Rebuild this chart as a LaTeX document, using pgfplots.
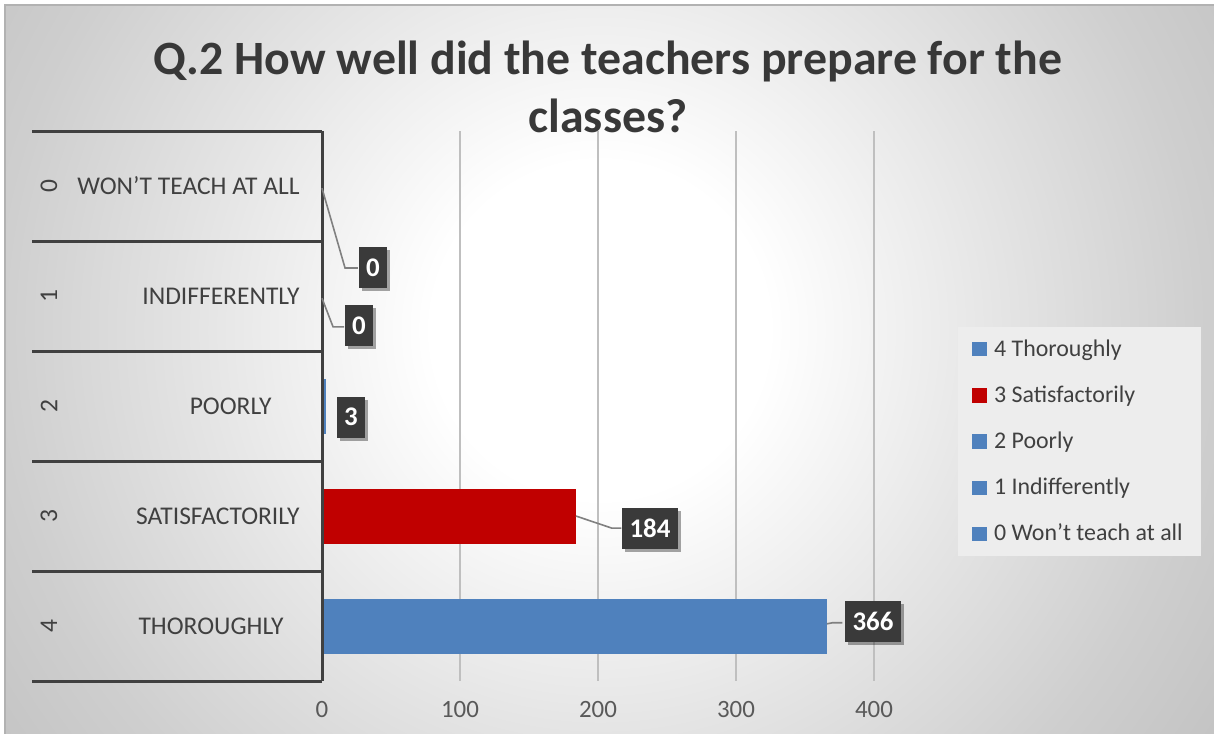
\documentclass[border=0pt]{standalone}
\usepackage{pgfplots}
\pgfplotsset{compat=1.18}
\usepackage{fontspec}
\setmainfont{Carlito}
\usetikzlibrary{shadows}
\definecolor{barblue}{HTML}{4F81BD}
\definecolor{barred}{HTML}{C00000}
\definecolor{labbox}{HTML}{3A3A3A}
\pgfdeclareradialshading{bgshade}{\pgfpoint{0bp}{0bp}}{color(0bp)=(white); color(6bp)=(white); color(14bp)=(black!10); color(21.5bp)=(black!19); color(26bp)=(black!23); color(50bp)=(black!23)}
\tikzset{
  lab/.style={fill=labbox, text=white, font=\bfseries\fontsize{13.5}{15}\selectfont, inner xsep=3.8bp, minimum height=20.5bp,
    drop shadow={shadow xshift=1.5bp, shadow yshift=-1.5bp, fill=black, opacity=0.35}},
  lead/.style={draw=black!50, line width=0.8bp},
  cat/.style={font=\fontsize{12.8}{15}\selectfont, text=black!75},
}
\begin{document}
\begin{tikzpicture}
\useasboundingbox (0,0) rectangle (607bp,-367bp);
\fill[white] (0,0) rectangle (607bp,-367bp);
\begin{scope}
\clip (2.5bp,-2.5bp) rectangle (607bp,-367bp);
\shade[shading=bgshade] (-50bp,185bp) rectangle (650bp,-515bp);
\end{scope}
\draw[black!30, line width=1bp] (2.5bp,-367bp) -- (2.5bp,-2.5bp) -- (607bp,-2.5bp);
\node[align=center, font=\bfseries\fontsize{24}{29}\selectfont, text=black!78] at (304bp,-43.5bp) {Q.2 How well did the teachers prepare for the\\ classes?};
\begin{axis}[
  at={(161bp,-340.5bp)}, anchor=south west,
  scale only axis, width=276bp, height=275bp,
  xmin=0, xmax=400, ymin=-0.5, ymax=4.5, y dir=reverse,
  xbar, bar width=0.5, bar shift=0pt,
  xtick={0,100,200,300,400}, ytick=\empty,
  xmajorgrids, grid style={draw=black!25, line width=0.7bp},
  axis line style={draw=none}, major tick length=0pt,
  tick label style={font=\fontsize{12.5}{14}\selectfont, text=black!65},
  /pgf/number format/assume math mode=true,
  xticklabel style={yshift=-6.5bp},
  clip=false,
  legend cell align=left,
  legend style={at={(1.152,0.6436)}, anchor=north west, fill=black!7, draw=none,
    font=\fontsize{12}{14}\selectfont, text=black!75, row sep=9.3bp, inner xsep=7bp, inner ysep=4bp,
    /tikz/every odd column/.append style={column sep=1.5bp}},
  legend image code/.code={\fill[#1] (0bp,-3.6bp) rectangle (7.4bp,3.6bp);},
]
\addplot[fill=barblue, draw=none] coordinates {(366,4)}; \addlegendentry{4 Thoroughly}
\addplot[fill=barred, draw=none] coordinates {(184,3)}; \addlegendentry{3 Satisfactorily}
\addplot[fill=barblue, draw=none] coordinates {(3,2)}; \addlegendentry{2 Poorly}
\addplot[fill=barblue, draw=none] coordinates {(0,1)}; \addlegendentry{1 Indifferently}
\addplot[fill=barblue, draw=none] coordinates {(0,0)}; \addlegendentry{0 Won’t teach at all}
\draw[black!75, line width=1.5bp] (axis cs:0,-0.5) -- (axis cs:0,4.5);
\pgfplotsinvokeforeach{-0.5,0.5,1.5,2.5,3.5,4.5}{
  \draw[black!75, line width=1.5bp] (axis cs:0,#1) -- ++(-145bp,0pt);
}
\node[cat, anchor=east, inner xsep=0pt] at (axis cs:-16,0) {WON’T TEACH AT ALL};
\node[cat, anchor=east, inner xsep=0pt] at (axis cs:-16,1) {INDIFFERENTLY};
\node[cat, anchor=east, inner xsep=0pt] at (axis cs:-36.2,2) {POORLY};
\node[cat, anchor=east, inner xsep=0pt] at (axis cs:-16,3) {SATISFACTORILY};
\node[cat, anchor=east, inner xsep=0pt] at (axis cs:-27.5,4) {THOROUGHLY};
\node[cat, rotate=90] at (axis cs:-197.8,0) {0};
\node[cat, rotate=90] at (axis cs:-197.8,1) {1};
\node[cat, rotate=90] at (axis cs:-197.8,2) {2};
\node[cat, rotate=90] at (axis cs:-197.8,3) {3};
\node[cat, rotate=90] at (axis cs:-197.8,4) {4};
\draw[lead] (axis cs:0,0.02) -- (axis cs:16.7,0.745) -- (axis cs:26,0.745);
\draw[lead] (axis cs:0,1.02) -- (axis cs:8,1.28) -- (axis cs:16,1.28);
\draw[lead] (axis cs:184,3.0) -- (axis cs:210,3.11) -- (axis cs:217,3.11);
\draw[lead] (axis cs:366,3.98) -- (axis cs:370,3.97) -- (axis cs:377,3.97);
\node[lab] at (axis cs:37,0.74) {0};
\node[lab] at (axis cs:26.8,1.27) {0};
\node[lab] at (axis cs:21,2.1) {3};
\node[lab] at (axis cs:237.7,3.11) {184};
\node[lab] at (axis cs:399.3,3.96) {366};
\end{axis}
\end{tikzpicture}
\end{document}
